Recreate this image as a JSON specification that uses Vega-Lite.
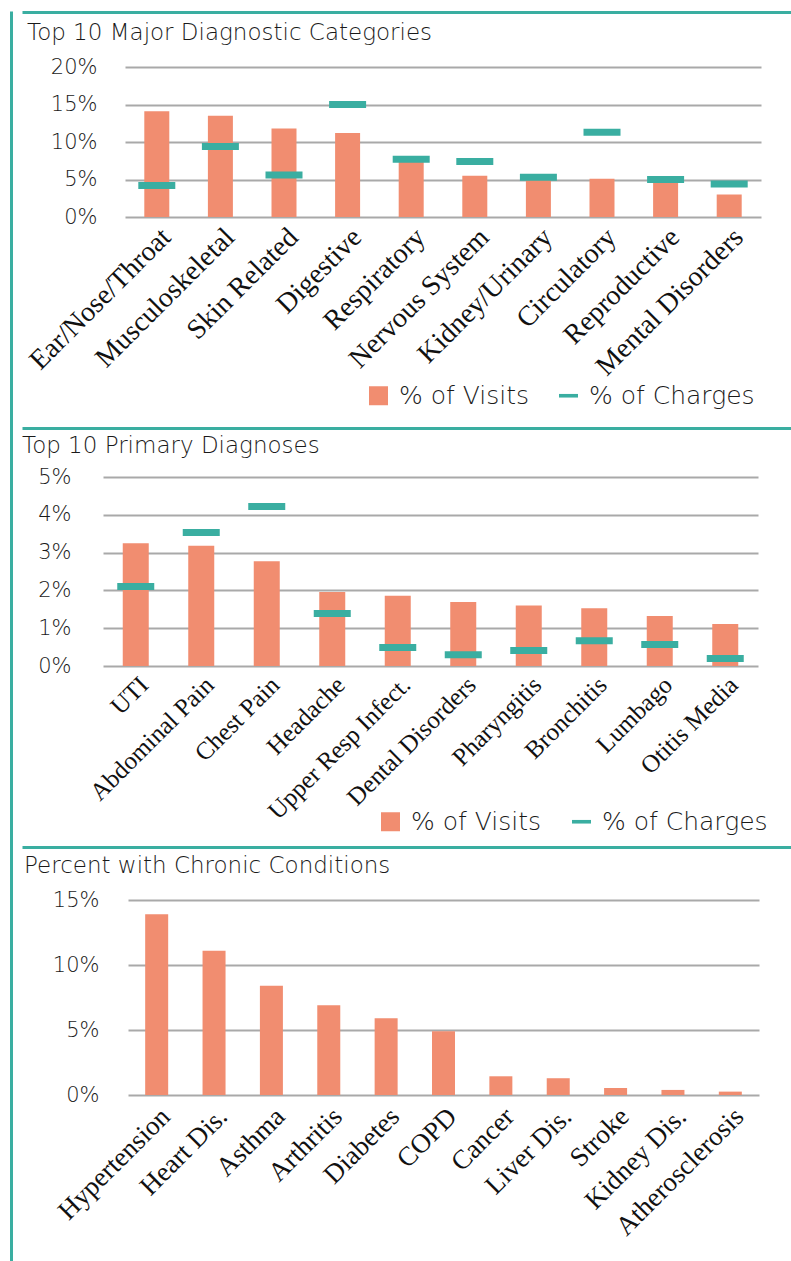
{
  "$schema": "https://vega.github.io/schema/vega-lite/v6.json",
  "padding": {"left": 8, "top": 8, "right": 0, "bottom": 0},
  "background": "white",
  "spacing": 0,
  "resolve": {"scale": {"color": "independent"}, "legend": {"color": "independent"}},
  "config": {
    "view": {"stroke": null},
    "axis": {"labelFont": "DejaVu Sans", "labelFontWeight": 200},
    "title": {"font": "DejaVu Sans", "fontWeight": 200, "color": "#1a1a1a"}
  },
  "hconcat": [
    {
      "width": 1,
      "height": 1252,
      "data": {"values": [{"v": 0}]},
      "mark": {"type": "point", "opacity": 0},
      "encoding": {
        "y": {"field": "v", "type": "quantitative",
          "axis": {"domain": true, "domainColor": "#3AAEA1", "domainWidth": 3, "labels": false, "ticks": false, "grid": false, "title": null}}
      }
    },
    {
      "columns": 2,
      "align": "none",
      "spacing": {"row": 7, "column": 0},
      "resolve": {"scale": {"color": "independent"}, "legend": {"color": "independent"}},
      "concat": [
        {"width": 1, "height": 1, "data": {"values": [{"v": 0}]}, "mark": {"type": "point", "opacity": 0}, "encoding": {}},
        {
          "width": 781, "height": 1,
          "data": {"values": [{"v": 0}]},
          "mark": {"type": "point", "opacity": 0},
          "encoding": {"x": {"field": "v", "type": "quantitative",
            "axis": {"domain": true, "domainColor": "#3AAEA1", "domainWidth": 3, "labels": false, "ticks": false, "grid": false, "title": null}}}
        },
        {"width": 1, "height": 1, "data": {"values": [{"v": 0}]}, "mark": {"type": "point", "opacity": 0}, "encoding": {}},
        {
          "width": 636, "height": 150,
          "title": {"text": "Top 10 Major Diagnostic Categories", "anchor": "start", "frame": "group", "dx": -98, "fontSize": 23, "offset": 11},
          "data": {"values": [
            {"cat": "Ear/Nose/Throat", "visits": 14.1, "charges": 4.2},
            {"cat": "Musculoskeletal", "visits": 13.5, "charges": 9.4},
            {"cat": "Skin Related", "visits": 11.8, "charges": 5.6},
            {"cat": "Digestive", "visits": 11.2, "charges": 15.0},
            {"cat": "Respiratory", "visits": 7.5, "charges": 7.7},
            {"cat": "Nervous System", "visits": 5.5, "charges": 7.4},
            {"cat": "Kidney/Urinary", "visits": 5.0, "charges": 5.3},
            {"cat": "Circulatory", "visits": 5.1, "charges": 11.3},
            {"cat": "Reproductive", "visits": 4.8, "charges": 5.0},
            {"cat": "Mental Disorders", "visits": 3.0, "charges": 4.4}
          ]},
          "encoding": {
            "x": {"field": "cat", "type": "nominal", "sort": null,
              "scale": {"paddingInner": 0, "paddingOuter": 0},
              "axis": {"title": null, "labelAngle": -45, "labelFont": "Liberation Serif", "labelFontWeight": "normal", "labelFontSize": 28, "labelColor": "#111111", "domain": false, "ticks": false, "labelPadding": 6, "labelLimit": 400}}
          },
          "layer": [
            {
              "mark": {"type": "bar", "size": 25},
              "encoding": {
                "y": {"field": "visits", "type": "quantitative",
                  "scale": {"domain": [0, 20], "nice": false},
                  "axis": {"values": [0, 5, 10, 15, 20], "labelExpr": "datum.value + '%'", "title": null, "domain": false, "ticks": false, "gridColor": "#a9a9a9", "gridWidth": 2, "labelFontSize": 21, "labelColor": "#1a1a1a", "labelPadding": 28, "minExtent": 102.5}},
                "color": {"datum": "% of Visits", "type": "nominal",
                  "scale": {"domain": ["% of Visits", "% of Charges"], "range": ["#F18D70", "#3AAEA1"]},
                  "legend": {"orient": "none", "legendX": 241, "legendY": 316, "direction": "horizontal", "title": null, "labelFont": "DejaVu Sans", "labelFontWeight": 200, "labelFontSize": 25, "labelColor": "#1a1a1a", "labelLimit": 400, "symbolSize": 361, "labelOffset": 8, "columnPadding": 26, "symbolStrokeWidth": 0, "symbolOpacity": 1,
                    "encode": {"symbols": {"update": {"shape": {"signal": "datum.value === '% of Charges' ? 'M-1,-0.19H1V0.19H-1Z' : 'square'"}}}}}}
              }
            },
            {
              "mark": {"type": "tick", "size": 37, "thickness": 7, "opacity": 1},
              "encoding": {
                "y": {"field": "charges", "type": "quantitative",
                  "axis": {"values": [0, 5, 10, 15, 20], "labelExpr": "datum.value + '%'", "title": null, "domain": false, "ticks": false, "gridColor": "#a9a9a9", "gridWidth": 2, "labelFontSize": 21, "labelColor": "#1a1a1a", "labelPadding": 28, "minExtent": 102.5}},
                "color": {"datum": "% of Charges", "type": "nominal"}
              }
            }
          ]
        },
        {"width": 1, "height": 1, "data": {"values": [{"v": 0}]}, "mark": {"type": "point", "opacity": 0}, "encoding": {}},
        {
          "width": 781, "height": 12,
          "data": {"values": [{"v": 0}]},
          "mark": {"type": "point", "opacity": 0},
          "encoding": {"x": {"field": "v", "type": "quantitative",
            "axis": {"domain": true, "domainColor": "#3AAEA1", "domainWidth": 3, "labels": false, "ticks": false, "grid": false, "title": null}}}
        },
        {"width": 1, "height": 1, "data": {"values": [{"v": 0}]}, "mark": {"type": "point", "opacity": 0}, "encoding": {}},
        {
          "width": 655, "height": 189,
          "title": {"text": "Top 10 Primary Diagnoses", "anchor": "start", "frame": "group", "dx": -81, "fontSize": 23, "offset": 8},
          "data": {"values": [
            {"cat": "UTI", "visits": 3.25, "charges": 2.1},
            {"cat": "Abdominal Pain", "visits": 3.18, "charges": 3.53},
            {"cat": "Chest Pain", "visits": 2.77, "charges": 4.22},
            {"cat": "Headache", "visits": 1.96, "charges": 1.39},
            {"cat": "Upper Resp Infect.", "visits": 1.86, "charges": 0.49},
            {"cat": "Dental Disorders", "visits": 1.69, "charges": 0.3},
            {"cat": "Pharyngitis", "visits": 1.6, "charges": 0.41},
            {"cat": "Bronchitis", "visits": 1.53, "charges": 0.67},
            {"cat": "Lumbago", "visits": 1.32, "charges": 0.57},
            {"cat": "Otitis Media", "visits": 1.11, "charges": 0.2}
          ]},
          "encoding": {
            "x": {"field": "cat", "type": "nominal", "sort": null,
              "scale": {"paddingInner": 0, "paddingOuter": 0},
              "axis": {"title": null, "labelAngle": -45, "labelFont": "Liberation Serif", "labelFontWeight": "normal", "labelFontSize": 25, "labelColor": "#111111", "domain": false, "ticks": false, "labelPadding": 6, "labelLimit": 400}}
          },
          "layer": [
            {
              "mark": {"type": "bar", "size": 26},
              "encoding": {
                "y": {"field": "visits", "type": "quantitative",
                  "scale": {"domain": [0, 5], "nice": false},
                  "axis": {"values": [0, 1, 2, 3, 4, 5], "labelExpr": "datum.value + '%'", "title": null, "domain": false, "ticks": false, "gridColor": "#a9a9a9", "gridWidth": 2, "labelFontSize": 21, "labelColor": "#1a1a1a", "labelPadding": 32, "minExtent": 79.5}},
                "color": {"datum": "% of Visits", "type": "nominal",
                  "scale": {"domain": ["% of Visits", "% of Charges"], "range": ["#F18D70", "#3AAEA1"]},
                  "legend": {"orient": "none", "legendX": 275, "legendY": 332, "direction": "horizontal", "title": null, "labelFont": "DejaVu Sans", "labelFontWeight": 200, "labelFontSize": 25, "labelColor": "#1a1a1a", "labelLimit": 400, "symbolSize": 361, "labelOffset": 8, "columnPadding": 27, "symbolStrokeWidth": 0, "symbolOpacity": 1,
                    "encode": {"symbols": {"update": {"shape": {"signal": "datum.value === '% of Charges' ? 'M-1,-0.19H1V0.19H-1Z' : 'square'"}}}}}}
              }
            },
            {
              "mark": {"type": "tick", "size": 37, "thickness": 7, "opacity": 1},
              "encoding": {
                "y": {"field": "charges", "type": "quantitative",
                  "axis": {"values": [0, 1, 2, 3, 4, 5], "labelExpr": "datum.value + '%'", "title": null, "domain": false, "ticks": false, "gridColor": "#a9a9a9", "gridWidth": 2, "labelFontSize": 21, "labelColor": "#1a1a1a", "labelPadding": 32, "minExtent": 79.5}},
                "color": {"datum": "% of Charges", "type": "nominal"}
              }
            }
          ]
        },
        {"width": 1, "height": 1, "data": {"values": [{"v": 0}]}, "mark": {"type": "point", "opacity": 0}, "encoding": {}},
        {
          "width": 781, "height": 4,
          "data": {"values": [{"v": 0}]},
          "mark": {"type": "point", "opacity": 0},
          "encoding": {"x": {"field": "v", "type": "quantitative",
            "axis": {"domain": true, "domainColor": "#3AAEA1", "domainWidth": 3, "labels": false, "ticks": false, "grid": false, "title": null}}}
        },
        {"width": 1, "height": 1, "data": {"values": [{"v": 0}]}, "mark": {"type": "point", "opacity": 0}, "encoding": {}},
        {
          "width": 631, "height": 195,
          "title": {"text": "Percent with Chronic Conditions", "anchor": "start", "frame": "group", "dx": -104, "fontSize": 23, "offset": 11},
          "data": {"values": [
            {"cat": "Hypertension", "pct": 13.9},
            {"cat": "Heart Dis.", "pct": 11.1},
            {"cat": "Asthma", "pct": 8.4},
            {"cat": "Arthritis", "pct": 6.9},
            {"cat": "Diabetes", "pct": 5.9},
            {"cat": "COPD", "pct": 4.9},
            {"cat": "Cancer", "pct": 1.44},
            {"cat": "Liver Dis.", "pct": 1.29},
            {"cat": "Stroke", "pct": 0.54},
            {"cat": "Kidney Dis.", "pct": 0.39},
            {"cat": "Atherosclerosis", "pct": 0.26}
          ]},
          "mark": {"type": "bar", "size": 23, "color": "#F18D70"},
          "encoding": {
            "x": {"field": "cat", "type": "nominal", "sort": null,
              "scale": {"paddingInner": 0, "paddingOuter": 0},
              "axis": {"title": null, "labelAngle": -45, "labelFont": "Liberation Serif", "labelFontWeight": "normal", "labelFontSize": 27, "labelColor": "#111111", "domain": false, "ticks": false, "labelPadding": 8, "labelLimit": 400}},
            "y": {"field": "pct", "type": "quantitative",
              "scale": {"domain": [0, 15], "nice": false},
              "axis": {"values": [0, 5, 10, 15], "labelExpr": "datum.value + '%'", "title": null, "domain": false, "ticks": false, "gridColor": "#a9a9a9", "gridWidth": 2, "labelFontSize": 21, "labelColor": "#1a1a1a", "labelPadding": 29, "minExtent": 105.5}}
          }
        }
      ]
    }
  ]
}
